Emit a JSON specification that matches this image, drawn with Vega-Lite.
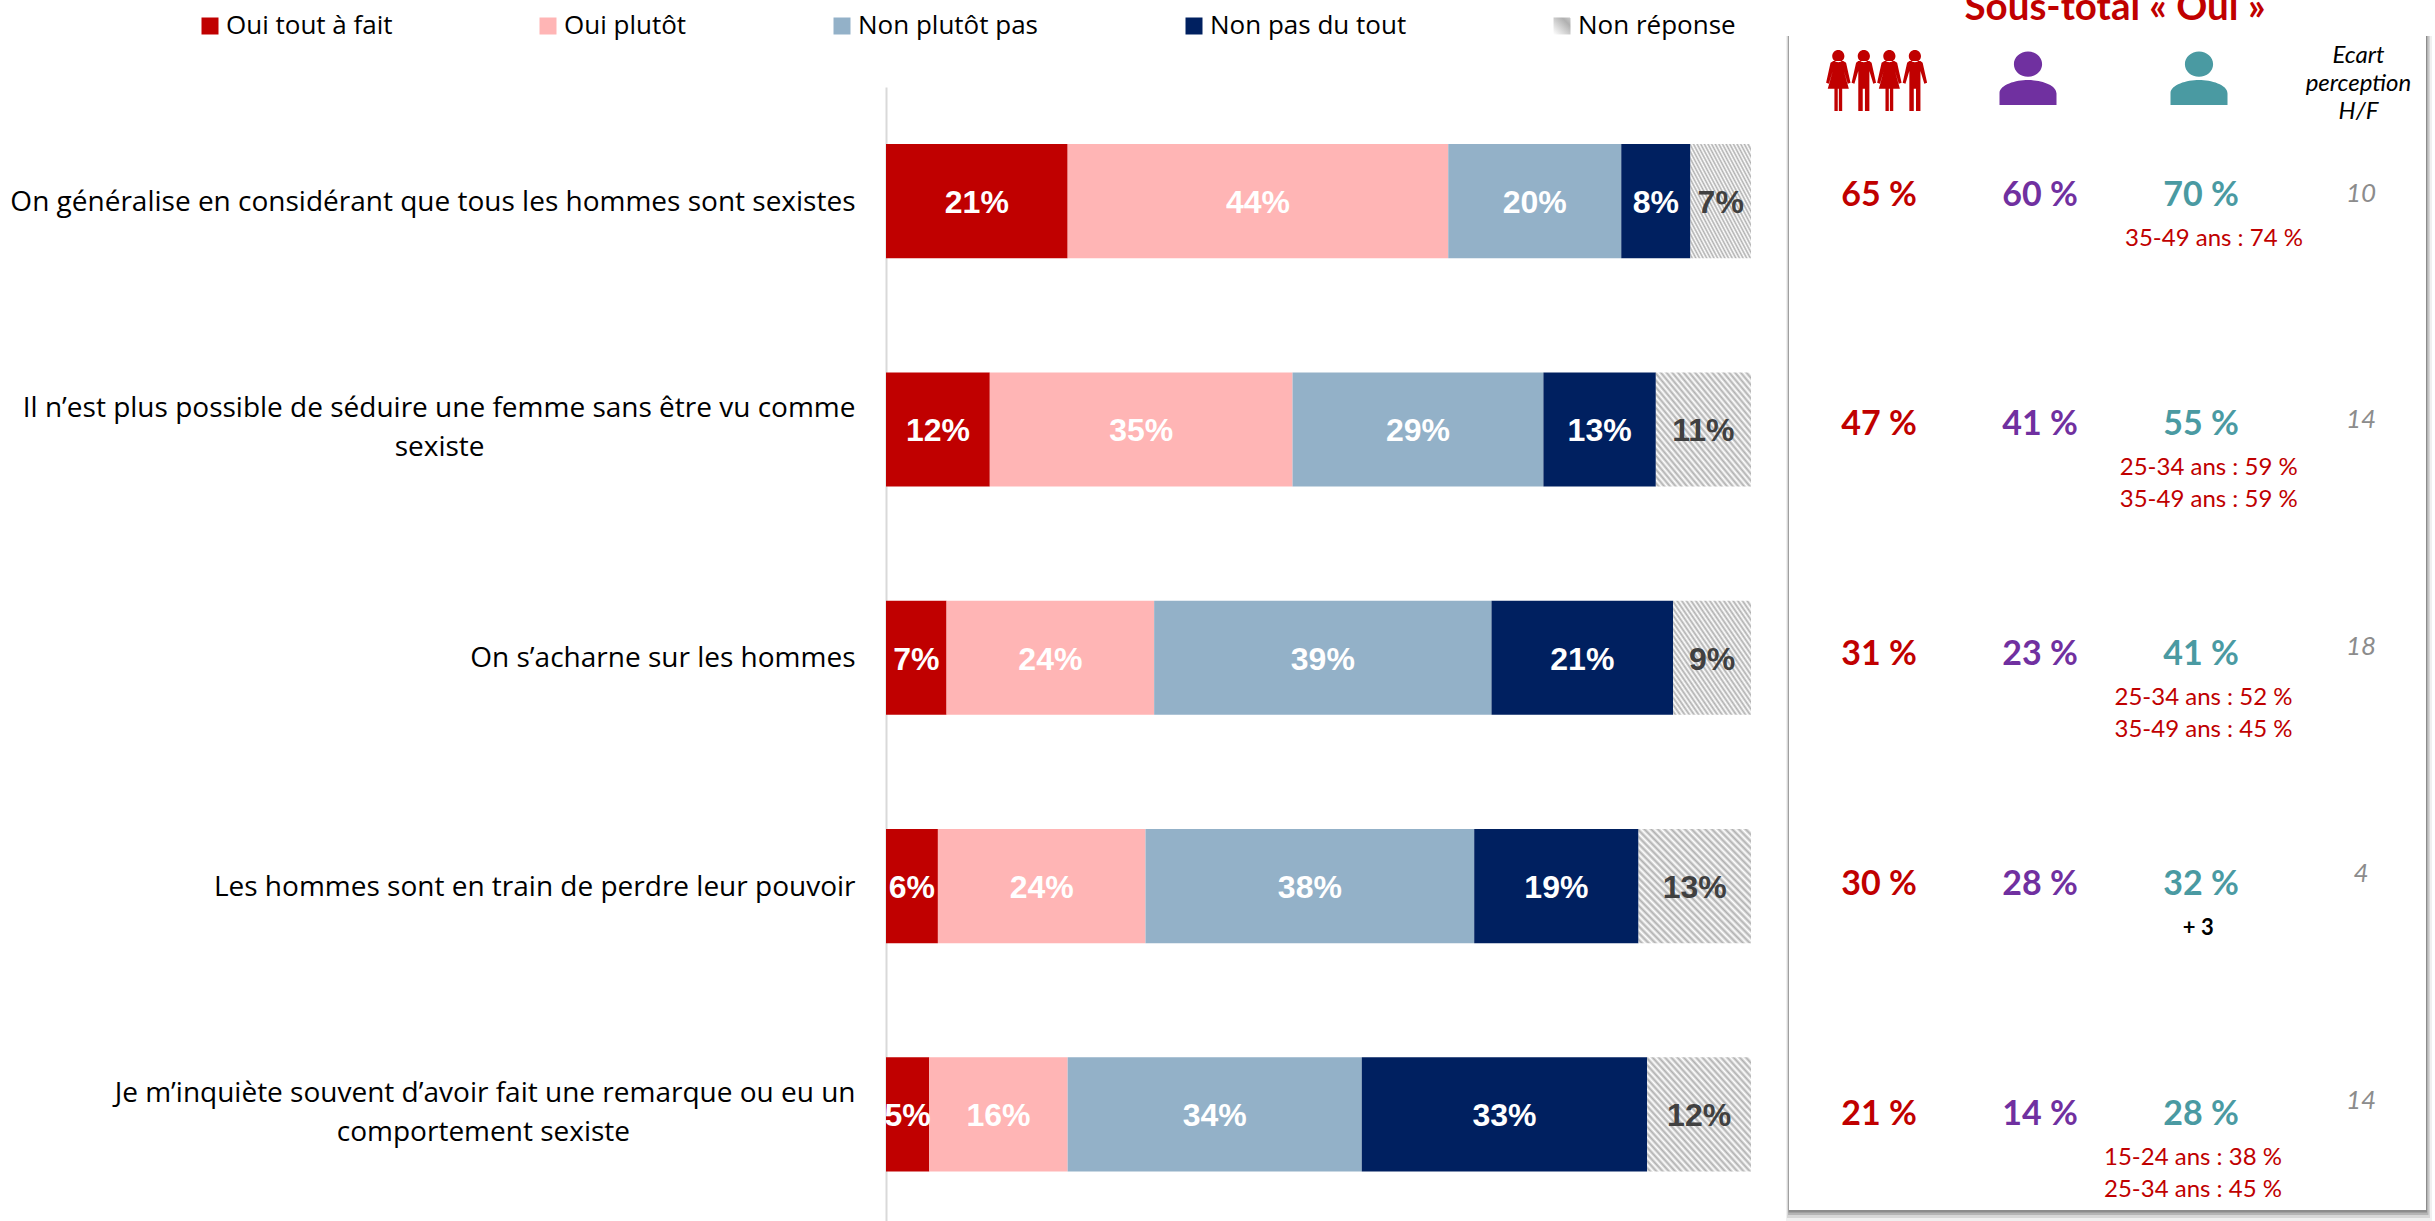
{"$schema":"https://vega.github.io/schema/vega-lite/v6.json","width":2435,"height":1221,"autosize":{"type":"none"},"padding":0,"background":"white","config":{"view":{"stroke":null},"font":"Open Sans"},
"datasets":{
"reponses":[
{"question":"On généralise en considérant que tous les hommes sont sexistes","reponse":"Oui tout à fait","ordre":1,"valeur":0.21},
{"question":"On généralise en considérant que tous les hommes sont sexistes","reponse":"Oui plutôt","ordre":2,"valeur":0.44},
{"question":"On généralise en considérant que tous les hommes sont sexistes","reponse":"Non plutôt pas","ordre":3,"valeur":0.20},
{"question":"On généralise en considérant que tous les hommes sont sexistes","reponse":"Non pas du tout","ordre":4,"valeur":0.08},
{"question":"On généralise en considérant que tous les hommes sont sexistes","reponse":"Non réponse","ordre":5,"valeur":0.07},
{"question":"Il n’est plus possible de séduire une femme sans être vu comme|sexiste\u00a0\u00a0\u00a0\u00a0\u00a0\u00a0\u00a0\u00a0\u00a0\u00a0\u00a0\u00a0\u00a0\u00a0\u00a0\u00a0\u00a0\u00a0\u00a0\u00a0\u00a0\u00a0\u00a0\u00a0\u00a0\u00a0\u00a0\u00a0\u00a0\u00a0\u00a0\u00a0\u00a0\u00a0\u00a0\u00a0\u00a0\u00a0\u00a0\u00a0\u00a0\u00a0\u00a0\u00a0\u00a0\u00a0\u00a0\u00a0\u00a0\u00a0\u00a0\u200b","reponse":"Oui tout à fait","ordre":1,"valeur":0.12},
{"question":"Il n’est plus possible de séduire une femme sans être vu comme|sexiste\u00a0\u00a0\u00a0\u00a0\u00a0\u00a0\u00a0\u00a0\u00a0\u00a0\u00a0\u00a0\u00a0\u00a0\u00a0\u00a0\u00a0\u00a0\u00a0\u00a0\u00a0\u00a0\u00a0\u00a0\u00a0\u00a0\u00a0\u00a0\u00a0\u00a0\u00a0\u00a0\u00a0\u00a0\u00a0\u00a0\u00a0\u00a0\u00a0\u00a0\u00a0\u00a0\u00a0\u00a0\u00a0\u00a0\u00a0\u00a0\u00a0\u00a0\u00a0\u200b","reponse":"Oui plutôt","ordre":2,"valeur":0.35},
{"question":"Il n’est plus possible de séduire une femme sans être vu comme|sexiste\u00a0\u00a0\u00a0\u00a0\u00a0\u00a0\u00a0\u00a0\u00a0\u00a0\u00a0\u00a0\u00a0\u00a0\u00a0\u00a0\u00a0\u00a0\u00a0\u00a0\u00a0\u00a0\u00a0\u00a0\u00a0\u00a0\u00a0\u00a0\u00a0\u00a0\u00a0\u00a0\u00a0\u00a0\u00a0\u00a0\u00a0\u00a0\u00a0\u00a0\u00a0\u00a0\u00a0\u00a0\u00a0\u00a0\u00a0\u00a0\u00a0\u00a0\u00a0\u200b","reponse":"Non plutôt pas","ordre":3,"valeur":0.29},
{"question":"Il n’est plus possible de séduire une femme sans être vu comme|sexiste\u00a0\u00a0\u00a0\u00a0\u00a0\u00a0\u00a0\u00a0\u00a0\u00a0\u00a0\u00a0\u00a0\u00a0\u00a0\u00a0\u00a0\u00a0\u00a0\u00a0\u00a0\u00a0\u00a0\u00a0\u00a0\u00a0\u00a0\u00a0\u00a0\u00a0\u00a0\u00a0\u00a0\u00a0\u00a0\u00a0\u00a0\u00a0\u00a0\u00a0\u00a0\u00a0\u00a0\u00a0\u00a0\u00a0\u00a0\u00a0\u00a0\u00a0\u00a0\u200b","reponse":"Non pas du tout","ordre":4,"valeur":0.13},
{"question":"Il n’est plus possible de séduire une femme sans être vu comme|sexiste\u00a0\u00a0\u00a0\u00a0\u00a0\u00a0\u00a0\u00a0\u00a0\u00a0\u00a0\u00a0\u00a0\u00a0\u00a0\u00a0\u00a0\u00a0\u00a0\u00a0\u00a0\u00a0\u00a0\u00a0\u00a0\u00a0\u00a0\u00a0\u00a0\u00a0\u00a0\u00a0\u00a0\u00a0\u00a0\u00a0\u00a0\u00a0\u00a0\u00a0\u00a0\u00a0\u00a0\u00a0\u00a0\u00a0\u00a0\u00a0\u00a0\u00a0\u00a0\u200b","reponse":"Non réponse","ordre":5,"valeur":0.11},
{"question":"On s’acharne sur les hommes","reponse":"Oui tout à fait","ordre":1,"valeur":0.07},
{"question":"On s’acharne sur les hommes","reponse":"Oui plutôt","ordre":2,"valeur":0.24},
{"question":"On s’acharne sur les hommes","reponse":"Non plutôt pas","ordre":3,"valeur":0.39},
{"question":"On s’acharne sur les hommes","reponse":"Non pas du tout","ordre":4,"valeur":0.21},
{"question":"On s’acharne sur les hommes","reponse":"Non réponse","ordre":5,"valeur":0.09},
{"question":"Les hommes sont en train de perdre leur pouvoir","reponse":"Oui tout à fait","ordre":1,"valeur":0.06},
{"question":"Les hommes sont en train de perdre leur pouvoir","reponse":"Oui plutôt","ordre":2,"valeur":0.24},
{"question":"Les hommes sont en train de perdre leur pouvoir","reponse":"Non plutôt pas","ordre":3,"valeur":0.38},
{"question":"Les hommes sont en train de perdre leur pouvoir","reponse":"Non pas du tout","ordre":4,"valeur":0.19},
{"question":"Les hommes sont en train de perdre leur pouvoir","reponse":"Non réponse","ordre":5,"valeur":0.13},
{"question":"Je m’inquiète souvent d’avoir fait une remarque ou eu un|comportement sexiste\u00a0\u00a0\u00a0\u00a0\u00a0\u00a0\u00a0\u00a0\u00a0\u00a0\u00a0\u00a0\u00a0\u00a0\u00a0\u00a0\u00a0\u00a0\u00a0\u00a0\u00a0\u00a0\u00a0\u00a0\u00a0\u00a0\u00a0\u00a0\u00a0\u00a0\u00a0\u200b","reponse":"Oui tout à fait","ordre":1,"valeur":0.05},
{"question":"Je m’inquiète souvent d’avoir fait une remarque ou eu un|comportement sexiste\u00a0\u00a0\u00a0\u00a0\u00a0\u00a0\u00a0\u00a0\u00a0\u00a0\u00a0\u00a0\u00a0\u00a0\u00a0\u00a0\u00a0\u00a0\u00a0\u00a0\u00a0\u00a0\u00a0\u00a0\u00a0\u00a0\u00a0\u00a0\u00a0\u00a0\u00a0\u200b","reponse":"Oui plutôt","ordre":2,"valeur":0.16},
{"question":"Je m’inquiète souvent d’avoir fait une remarque ou eu un|comportement sexiste\u00a0\u00a0\u00a0\u00a0\u00a0\u00a0\u00a0\u00a0\u00a0\u00a0\u00a0\u00a0\u00a0\u00a0\u00a0\u00a0\u00a0\u00a0\u00a0\u00a0\u00a0\u00a0\u00a0\u00a0\u00a0\u00a0\u00a0\u00a0\u00a0\u00a0\u00a0\u200b","reponse":"Non plutôt pas","ordre":3,"valeur":0.34},
{"question":"Je m’inquiète souvent d’avoir fait une remarque ou eu un|comportement sexiste\u00a0\u00a0\u00a0\u00a0\u00a0\u00a0\u00a0\u00a0\u00a0\u00a0\u00a0\u00a0\u00a0\u00a0\u00a0\u00a0\u00a0\u00a0\u00a0\u00a0\u00a0\u00a0\u00a0\u00a0\u00a0\u00a0\u00a0\u00a0\u00a0\u00a0\u00a0\u200b","reponse":"Non pas du tout","ordre":4,"valeur":0.33},
{"question":"Je m’inquiète souvent d’avoir fait une remarque ou eu un|comportement sexiste\u00a0\u00a0\u00a0\u00a0\u00a0\u00a0\u00a0\u00a0\u00a0\u00a0\u00a0\u00a0\u00a0\u00a0\u00a0\u00a0\u00a0\u00a0\u00a0\u00a0\u00a0\u00a0\u00a0\u00a0\u00a0\u00a0\u00a0\u00a0\u00a0\u00a0\u00a0\u200b","reponse":"Non réponse","ordre":5,"valeur":0.12}
],
"soustotal":[
{"ligne":1,"colonne":"Ensemble","texte":"65 %"},{"ligne":1,"colonne":"Hommes","texte":"60 %"},{"ligne":1,"colonne":"Femmes","texte":"70 %"},
{"ligne":2,"colonne":"Ensemble","texte":"47 %"},{"ligne":2,"colonne":"Hommes","texte":"41 %"},{"ligne":2,"colonne":"Femmes","texte":"55 %"},
{"ligne":3,"colonne":"Ensemble","texte":"31 %"},{"ligne":3,"colonne":"Hommes","texte":"23 %"},{"ligne":3,"colonne":"Femmes","texte":"41 %"},
{"ligne":4,"colonne":"Ensemble","texte":"30 %"},{"ligne":4,"colonne":"Hommes","texte":"28 %"},{"ligne":4,"colonne":"Femmes","texte":"32 %"},
{"ligne":5,"colonne":"Ensemble","texte":"21 %"},{"ligne":5,"colonne":"Hommes","texte":"14 %"},{"ligne":5,"colonne":"Femmes","texte":"28 %"}],
"ecart":[{"ligne":1,"colonne":"Ecart","ecart":10},{"ligne":2,"colonne":"Ecart","ecart":14},{"ligne":3,"colonne":"Ecart","ecart":18},{"ligne":4,"colonne":"Ecart","ecart":4},{"ligne":5,"colonne":"Ecart","ecart":14}],
"notes":[{"ligne":1,"rang":1,"note":"35-49 ans : 74 %"},{"ligne":2,"rang":1,"note":"25-34 ans : 59 %"},{"ligne":2,"rang":2,"note":"35-49 ans : 59 %"},{"ligne":3,"rang":1,"note":"25-34 ans : 52 %"},{"ligne":3,"rang":2,"note":"35-49 ans : 45 %"},{"ligne":5,"rang":1,"note":"15-24 ans : 38 %"},{"ligne":5,"rang":2,"note":"25-34 ans : 45 %"}],
"plus":[{"ligne":4,"note":"+ 3"}],
"entete":[{"colonne":"Titre","texte":"Sous-total « Oui »"}],
"ecartTitre":[{"colonne":"Ecart","texte":"Ecart\nperception\nH/F"}],
"panneau":[{"panneau":"Sous-total"}],
"icone":[{"colonne":"icone"}]
},
"resolve":{"scale":{"x":"independent","y":"independent","fill":"independent","color":"independent"},"axis":{"x":"independent","y":"independent"}},
"layer":[
{"data":{"name":"panneau"},"mark":{"type":"rect","fill":"#000000","opacity":0.06},"encoding":{"x":{"field":"panneau","type":"nominal","axis":null,"scale":{"type":"band","range":[1786,2432],"paddingInner":0,"paddingOuter":0}},"y":{"field":"panneau","type":"nominal","axis":null,"scale":{"type":"band","range":[36,1221],"paddingInner":0,"paddingOuter":0}}}},
{"data":{"name":"panneau"},"mark":{"type":"rect","fill":"#000000","opacity":0.1},"encoding":{"x":{"field":"panneau","type":"nominal","axis":null,"scale":{"type":"band","range":[1787,2430],"paddingInner":0,"paddingOuter":0}},"y":{"field":"panneau","type":"nominal","axis":null,"scale":{"type":"band","range":[36,1218],"paddingInner":0,"paddingOuter":0}}}},
{"data":{"name":"panneau"},"mark":{"type":"rect","fill":"#000000","opacity":0.16},"encoding":{"x":{"field":"panneau","type":"nominal","axis":null,"scale":{"type":"band","range":[1788,2428.5],"paddingInner":0,"paddingOuter":0}},"y":{"field":"panneau","type":"nominal","axis":null,"scale":{"type":"band","range":[36,1215],"paddingInner":0,"paddingOuter":0}}}},
{"data":{"name":"panneau"},"mark":{"type":"rect","fill":"#000000","opacity":0.22},"encoding":{"x":{"field":"panneau","type":"nominal","axis":null,"scale":{"type":"band","range":[1788.5,2427],"paddingInner":0,"paddingOuter":0}},"y":{"field":"panneau","type":"nominal","axis":null,"scale":{"type":"band","range":[36,1212.5],"paddingInner":0,"paddingOuter":0}}}},
{"data":{"name":"panneau"},"mark":{"type":"rect","fill":"#ffffff"},"encoding":{"x":{"field":"panneau","type":"nominal","axis":null,"scale":{"type":"band","range":[1789,2426],"paddingInner":0,"paddingOuter":0}},"y":{"field":"panneau","type":"nominal","axis":null,"scale":{"type":"band","range":[32,1210],"paddingInner":0,"paddingOuter":0}}}},
{"data":{"name":"reponses"},"transform":[{"stack":"valeur","groupby":["question"],"sort":[{"field":"ordre","order":"ascending"}],"as":["s0","s1"]}],"mark":{"type":"bar"},
"encoding":{
"y":{"field":"question","type":"nominal","sort":null,"scale":{"type":"band","range":[87,1228.5],"paddingInner":0.5,"paddingOuter":0.25},"axis":{"title":null,"orient":"left","offset":-886,"ticks":false,"grid":false,"domain":true,"domainColor":"#d9d9d9","domainWidth":2,"labelFont":"Open Sans","labelFontSize":28,"labelColor":"#000000","labelPadding":31,"labelLimit":1000,"labelLineHeight":39,"labelOffset":{"condition":{"test":"indexof(datum.label,'|')>=0","value":-20},"value":1.5},"labelExpr":"split(datum.label,'|')"}},
"x":{"field":"s0","type":"quantitative","axis":null,"scale":{"domain":[0,1],"range":[886,1751],"nice":false,"zero":false}},
"x2":{"field":"s1"},
"fill":{"field":"reponse","type":"nominal","scale":{"domain":["Oui tout à fait","Oui plutôt","Non plutôt pas","Non pas du tout","Non réponse"],"range":["#c00000","#ffb5b5","#93b1c8","#002060",{"expr":"{gradient:'linear',x1:0,y1:1,x2:1,y2:0,stops:[{offset:0,color:'#fff'},{offset:.015,color:'#b0b0b0'},{offset:.03,color:'#fff'},{offset:.045,color:'#b0b0b0'},{offset:.06,color:'#fff'},{offset:.075,color:'#b0b0b0'},{offset:.09,color:'#fff'},{offset:.105,color:'#b0b0b0'},{offset:.12,color:'#fff'},{offset:.135,color:'#b0b0b0'},{offset:.15,color:'#fff'},{offset:.165,color:'#b0b0b0'},{offset:.18,color:'#fff'},{offset:.195,color:'#b0b0b0'},{offset:.21,color:'#fff'},{offset:.225,color:'#b0b0b0'},{offset:.24,color:'#fff'},{offset:.255,color:'#b0b0b0'},{offset:.27,color:'#fff'},{offset:.285,color:'#b0b0b0'},{offset:.3,color:'#fff'},{offset:.315,color:'#b0b0b0'},{offset:.33,color:'#fff'},{offset:.345,color:'#b0b0b0'},{offset:.36,color:'#fff'},{offset:.375,color:'#b0b0b0'},{offset:.39,color:'#fff'},{offset:.405,color:'#b0b0b0'},{offset:.42,color:'#fff'},{offset:.435,color:'#b0b0b0'},{offset:.45,color:'#fff'},{offset:.465,color:'#b0b0b0'},{offset:.48,color:'#fff'},{offset:.495,color:'#b0b0b0'},{offset:.51,color:'#fff'},{offset:.525,color:'#b0b0b0'},{offset:.54,color:'#fff'},{offset:.555,color:'#b0b0b0'},{offset:.57,color:'#fff'},{offset:.585,color:'#b0b0b0'},{offset:.6,color:'#fff'},{offset:.615,color:'#b0b0b0'},{offset:.63,color:'#fff'},{offset:.645,color:'#b0b0b0'},{offset:.66,color:'#fff'},{offset:.675,color:'#b0b0b0'},{offset:.69,color:'#fff'},{offset:.705,color:'#b0b0b0'},{offset:.72,color:'#fff'},{offset:.735,color:'#b0b0b0'},{offset:.75,color:'#fff'},{offset:.765,color:'#b0b0b0'},{offset:.78,color:'#fff'},{offset:.795,color:'#b0b0b0'},{offset:.81,color:'#fff'},{offset:.825,color:'#b0b0b0'},{offset:.84,color:'#fff'},{offset:.855,color:'#b0b0b0'},{offset:.87,color:'#fff'},{offset:.885,color:'#b0b0b0'},{offset:.9,color:'#fff'},{offset:.915,color:'#b0b0b0'},{offset:.93,color:'#fff'},{offset:.945,color:'#b0b0b0'},{offset:.96,color:'#fff'},{offset:.975,color:'#b0b0b0'},{offset:.99,color:'#fff'}]}"}]},
"legend":{"title":null,"orient":"none","legendX":197,"legendY":13,"direction":"horizontal","columns":5,"gridAlign":"none","columnPadding":142,"padding":0,"symbolType":"square","symbolSize":289,"symbolStrokeWidth":0,"labelOffset":3,"labelFont":"Open Sans","labelFontSize":26,"labelColor":"#000000","labelLimit":400}}
}},
{"data":{"name":"reponses"},"transform":[{"stack":"valeur","groupby":["question"],"sort":[{"field":"ordre","order":"ascending"}],"as":["s0","s1"]},{"fold":["s0","s1"],"as":["borne","position"]}],"mark":{"type":"text","font":"Liberation Sans","fontWeight":"bold","fontSize":32,"baseline":"middle","align":"center","dy":2},
"encoding":{
"y":{"field":"question","type":"nominal","sort":null,"axis":null,"scale":{"type":"band","range":[87,1228.5],"paddingInner":0.5,"paddingOuter":0.25}},
"x":{"aggregate":"mean","field":"position","type":"quantitative","axis":null,"scale":{"domain":[0,1],"range":[886,1751],"nice":false,"zero":false}},
"text":{"field":"valeur","type":"quantitative","format":".0%"},
"detail":{"field":"reponse"},
"color":{"condition":{"test":"datum.reponse==='Non réponse'","value":"#404040"},"value":"#ffffff"}
}},
{"data":{"name":"soustotal"},"mark":{"type":"text","font":"Lato","fontWeight":"bold","fontSize":34,"baseline":"middle","align":"center"},
"encoding":{
"x":{"field":"colonne","type":"nominal","axis":null,"sort":null,"scale":{"type":"point","domain":["Ensemble","Hommes","Femmes"],"range":[1879,2201],"padding":0}},
"y":{"field":"ligne","type":"ordinal","axis":null,"scale":{"type":"point","domain":[1,2,3,4,5],"range":[195.5,1114.5],"padding":0}},
"text":{"field":"texte"},
"color":{"field":"colonne","type":"nominal","legend":null,"scale":{"domain":["Ensemble","Hommes","Femmes"],"range":["#c00000","#7030a0","#4a9aa2"]}}
}},
{"data":{"name":"ecart"},"mark":{"type":"text","font":"Lato","fontStyle":"italic","fontSize":26,"baseline":"middle","align":"center","color":"#8c8c8c"},
"encoding":{
"x":{"field":"colonne","type":"nominal","axis":null,"scale":{"type":"point","domain":["Ecart"],"range":[2361,2361],"padding":0}},
"y":{"field":"ligne","type":"ordinal","axis":null,"scale":{"type":"point","domain":[1,2,3,4,5],"range":[193.5,1101],"padding":0}},
"text":{"field":"ecart","type":"quantitative"}
}},
{"data":{"name":"notes"},"transform":[{"filter":"datum.rang===1"}],"mark":{"type":"text","font":"Lato","fontSize":24,"baseline":"middle","align":"center","color":"#c00000","dy":43},
"encoding":{
"x":{"field":"ligne","type":"ordinal","axis":null,"scale":{"type":"point","domain":[1,2,3,4,5],"range":[2214,2193],"padding":0}},
"y":{"field":"ligne","type":"ordinal","axis":null,"scale":{"type":"point","domain":[1,2,3,4,5],"range":[195.5,1114.5],"padding":0}},
"text":{"field":"note"}
}},
{"data":{"name":"notes"},"transform":[{"filter":"datum.rang===2"}],"mark":{"type":"text","font":"Lato","fontSize":24,"baseline":"middle","align":"center","color":"#c00000","dy":75},
"encoding":{
"x":{"field":"ligne","type":"ordinal","axis":null,"scale":{"type":"point","domain":[1,2,3,4,5],"range":[2214,2193],"padding":0}},
"y":{"field":"ligne","type":"ordinal","axis":null,"scale":{"type":"point","domain":[1,2,3,4,5],"range":[195.5,1114.5],"padding":0}},
"text":{"field":"note"}
}},
{"data":{"name":"plus"},"mark":{"type":"text","font":"Lato","fontWeight":"bold","fontSize":22,"baseline":"middle","align":"center","color":"#000000","dy":43},
"encoding":{
"x":{"field":"ligne","type":"ordinal","axis":null,"scale":{"type":"point","domain":[1,2,3,4,5],"range":[2214,2193],"padding":0}},
"y":{"field":"ligne","type":"ordinal","axis":null,"scale":{"type":"point","domain":[1,2,3,4,5],"range":[195.5,1114.5],"padding":0}},
"text":{"field":"note"}
}},
{"data":{"name":"entete"},"mark":{"type":"text","font":"Lato","fontWeight":"bold","fontSize":38.5,"baseline":"alphabetic","align":"center","color":"#c00000"},
"encoding":{
"x":{"field":"colonne","type":"nominal","axis":null,"scale":{"type":"point","domain":["Titre"],"range":[2115,2115],"padding":0}},
"y":{"field":"colonne","type":"nominal","axis":null,"scale":{"type":"point","domain":["Titre"],"range":[20,20],"padding":0}},
"text":{"field":"texte"}
}},
{"data":{"name":"ecartTitre"},"mark":{"type":"text","font":"Lato","fontStyle":"italic","fontSize":24,"baseline":"middle","align":"center","color":"#000000","lineBreak":"\n","lineHeight":28},
"encoding":{
"x":{"field":"colonne","type":"nominal","axis":null,"scale":{"type":"point","domain":["Ecart"],"range":[2358.5,2358.5],"padding":0}},
"y":{"field":"colonne","type":"nominal","axis":null,"scale":{"type":"point","domain":["Ecart"],"range":[56,56],"padding":0}},
"text":{"field":"texte"}
}},
{"data":{"name":"icone"},"mark":{"type":"point","filled":true,"opacity":1,"strokeWidth":0,"color":"#c00000","size":12321,"shape":"M-.78,-.36l.18,0l.05,.03l.08,.36l-.05,.02l-.07,-.23l.09,.32l-.12,0l0,.4l-.06,0l0,-.4l-.02,0l0,.4l-.06,0l0,-.4l-.12,0l.09,-.32l-.07,.23l-.05,-.02l.08,-.36zM-.8,-.45a.11,.11 0 1,0 .22,0a.11,.11 0 1,0 -.22,0zM-.33,-.36l.2,0l.04,.03l.08,.36l-.05,.02l-.07,-.23l0,.72l-.08,0l0,-.4l-.04,0l0,.4l-.08,0l0,-.72l-.07,.23l-.05,-.02l.08,-.36zM-.34,-.45a.11,.11 0 1,0 .22,0a.11,.11 0 1,0 -.22,0zM.14,-.36l.18,0l.05,.03l.08,.36l-.05,.02l-.07,-.23l.09,.32l-.12,0l0,.4l-.06,0l0,-.4l-.02,0l0,.4l-.06,0l0,-.4l-.12,0l.09,-.32l-.07,.23l-.05,-.02l.08,-.36zM.12,-.45a.11,.11 0 1,0 .22,0a.11,.11 0 1,0 -.22,0zM.59,-.36l.2,0l.04,.03l.08,.36l-.05,.02l-.07,-.23l0,.72l-.08,0l0,-.4l-.04,0l0,.4l-.08,0l0,-.72l-.07,.23l-.05,-.02l.08,-.36zM.58,-.45a.11,.11 0 1,0 .22,0a.11,.11 0 1,0 -.22,0z"},
"encoding":{
"x":{"field":"colonne","type":"nominal","axis":null,"scale":{"type":"point","domain":["icone"],"range":[1876.6,1876.6],"padding":0}},
"y":{"field":"colonne","type":"nominal","axis":null,"scale":{"type":"point","domain":["icone"],"range":[81,81],"padding":0}}
}},
{"data":{"name":"icone"},"mark":{"type":"point","filled":true,"opacity":1,"strokeWidth":0,"color":"#7030a0","size":3600,"shape":"M-.47,-.48a.47,.42 0 1,0 .94,0a.47,.42 0 1,0 -.94,0zM-.95,.88L-.95,.5C-.95,.2 -.4,.05 0,.05C.4,.05 .95,.2 .95,.5L.95,.88z"},
"encoding":{
"x":{"field":"colonne","type":"nominal","axis":null,"scale":{"type":"point","domain":["icone"],"range":[2028,2028],"padding":0}},
"y":{"field":"colonne","type":"nominal","axis":null,"scale":{"type":"point","domain":["icone"],"range":[78.6,78.6],"padding":0}}
}},
{"data":{"name":"icone"},"mark":{"type":"point","filled":true,"opacity":1,"strokeWidth":0,"color":"#4a9aa2","size":3600,"shape":"M-.47,-.48a.47,.42 0 1,0 .94,0a.47,.42 0 1,0 -.94,0zM-.95,.88L-.95,.5C-.95,.2 -.4,.05 0,.05C.4,.05 .95,.2 .95,.5L.95,.88z"},
"encoding":{
"x":{"field":"colonne","type":"nominal","axis":null,"scale":{"type":"point","domain":["icone"],"range":[2199,2199],"padding":0}},
"y":{"field":"colonne","type":"nominal","axis":null,"scale":{"type":"point","domain":["icone"],"range":[78.6,78.6],"padding":0}}
}}
]}
